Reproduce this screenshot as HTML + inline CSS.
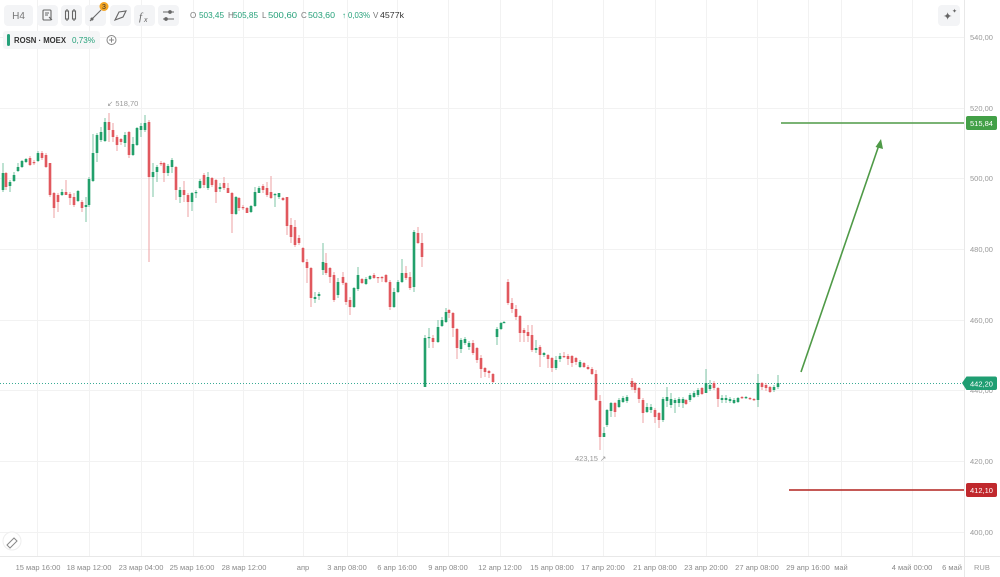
<!DOCTYPE html>
<html><head><meta charset="utf-8">
<style>
html,body{margin:0;padding:0;background:#fff;}
svg{display:block;font-family:"Liberation Sans",sans-serif;}
</style></head>
<body>
<svg id="c" width="1000" height="577" viewBox="0 0 1000 577" xmlns="http://www.w3.org/2000/svg">
<rect width="1000" height="577" fill="#fff"/>
<g stroke="#f2f2f2" stroke-width="1">
<line x1="0" y1="37.5" x2="964" y2="37.5"/><line x1="0" y1="108.5" x2="964" y2="108.5"/>
<line x1="0" y1="178.5" x2="964" y2="178.5"/><line x1="0" y1="249.5" x2="964" y2="249.5"/>
<line x1="0" y1="320.5" x2="964" y2="320.5"/><line x1="0" y1="390.5" x2="964" y2="390.5"/>
<line x1="0" y1="461.5" x2="964" y2="461.5"/><line x1="0" y1="532.5" x2="964" y2="532.5"/>
<line x1="37.5" y1="0" x2="37.5" y2="556"/><line x1="89.5" y1="0" x2="89.5" y2="556"/>
<line x1="141.5" y1="0" x2="141.5" y2="556"/><line x1="193.5" y1="0" x2="193.5" y2="556"/>
<line x1="243.5" y1="0" x2="243.5" y2="556"/><line x1="303.5" y1="0" x2="303.5" y2="556"/>
<line x1="347.5" y1="0" x2="347.5" y2="556"/><line x1="397.5" y1="0" x2="397.5" y2="556"/>
<line x1="448.5" y1="0" x2="448.5" y2="556"/><line x1="500.5" y1="0" x2="500.5" y2="556"/>
<line x1="552.5" y1="0" x2="552.5" y2="556"/><line x1="603.5" y1="0" x2="603.5" y2="556"/>
<line x1="655.5" y1="0" x2="655.5" y2="556"/><line x1="706.5" y1="0" x2="706.5" y2="556"/>
<line x1="757.5" y1="0" x2="757.5" y2="556"/><line x1="808.5" y1="0" x2="808.5" y2="556"/>
<line x1="841.5" y1="0" x2="841.5" y2="556"/><line x1="912.5" y1="0" x2="912.5" y2="556"/>
</g>
<line x1="964.5" y1="0" x2="964.5" y2="577" stroke="#e8e8e8"/>
<line x1="0" y1="556.5" x2="1000" y2="556.5" stroke="#e8e8e8"/>

<line x1="0" y1="383.5" x2="964" y2="383.5" stroke="#3aab95" stroke-width="1" stroke-dasharray="1,2"/>

<g id="candles"></g>

<text x="107" y="106" font-size="7.5" fill="#999">↙ 518,70</text>
<text x="575" y="461" font-size="7.5" fill="#999">423,15 ↗</text>

<line x1="781" y1="123" x2="964" y2="123" stroke="#4f9a47" stroke-width="1.6"/>
<line x1="789" y1="490" x2="964" y2="490" stroke="#b2221f" stroke-width="1.6"/>
<line x1="801" y1="372" x2="879" y2="145" stroke="#4f9a47" stroke-width="1.6"/>
<polygon points="881,139 875.5,147 883,149" fill="#4f9a47"/>

<g font-size="7.5" fill="#9a9a9a">
<text x="970" y="40">540,00</text><text x="970" y="111">520,00</text>
<text x="970" y="181">500,00</text><text x="970" y="252">480,00</text>
<text x="970" y="323">460,00</text><text x="970" y="393">440,00</text>
<text x="970" y="464">420,00</text><text x="970" y="535">400,00</text>
<text x="974" y="570">RUB</text>
</g>
<rect x="966" y="116" width="31" height="14" rx="2" fill="#43a047"/>
<text x="981.5" y="126" font-size="7.5" fill="#fff" text-anchor="middle">515,84</text>
<path d="M962 383 L966.5 376.5 H995 Q997 376.5 997 378.5 V388 Q997 390 995 390 H966.5 Z" fill="#1f9e72"/>
<text x="981.5" y="386.5" font-size="7.5" fill="#fff" text-anchor="middle">442,20</text>
<rect x="966" y="483" width="31" height="14" rx="2" fill="#c0282d"/>
<text x="981.5" y="493" font-size="7.5" fill="#fff" text-anchor="middle">412,10</text>

<g font-size="7.5" fill="#8a8a8a" text-anchor="middle">
<text x="38" y="570">15 мар 16:00</text><text x="89" y="570">18 мар 12:00</text>
<text x="141" y="570">23 мар 04:00</text><text x="192" y="570">25 мар 16:00</text>
<text x="244" y="570">28 мар 12:00</text><text x="303" y="570">апр</text>
<text x="347" y="570">3 апр 08:00</text><text x="397" y="570">6 апр 16:00</text>
<text x="448" y="570">9 апр 08:00</text><text x="500" y="570">12 апр 12:00</text>
<text x="552" y="570">15 апр 08:00</text><text x="603" y="570">17 апр 20:00</text>
<text x="655" y="570">21 апр 08:00</text><text x="706" y="570">23 апр 20:00</text>
<text x="757" y="570">27 апр 08:00</text><text x="808" y="570">29 апр 16:00</text>
<text x="841" y="570">май</text><text x="912" y="570">4 май 00:00</text>
<text x="952" y="570">6 май</text>
</g>

<rect x="4" y="5" width="29" height="21" rx="4" fill="#f3f4f6"/>
<text x="18.5" y="19" font-size="10" fill="#777" text-anchor="middle">H4</text>
<g fill="#f3f4f6">
<rect x="37" y="5" width="21" height="21" rx="4"/><rect x="61" y="5" width="21" height="21" rx="4"/>
<rect x="85" y="5" width="21" height="21" rx="4"/><rect x="110" y="5" width="21" height="21" rx="4"/>
<rect x="134" y="5" width="21" height="21" rx="4"/><rect x="158" y="5" width="21" height="21" rx="4"/>
<rect x="938" y="5" width="22" height="21" rx="4"/>
</g>
<g stroke="#666" stroke-width="1.1" fill="none">
<rect x="43" y="10" width="8" height="10" rx="1"/><path d="M45 13h4M45 15h3M49 17l3 3"/>
<rect x="65.5" y="11" width="3" height="8"/><rect x="72.5" y="11" width="3" height="8"/><path d="M67 9v2M67 19v2M74 9v2M74 19v2"/>
<path d="M90 21L101 10"/><circle cx="92" cy="19" r="1"/>
<path d="M115 20L119 12L126 11L123 17Z"/>
<path d="M163 12h11M163 19h11"/><circle cx="170" cy="12" r="1.3" fill="#666"/><circle cx="166" cy="19" r="1.3" fill="#666"/>
</g>
<text x="139" y="20" font-size="11" font-style="italic" font-family="Liberation Serif" fill="#666">f</text>
<text x="144" y="22" font-size="7" font-style="italic" fill="#666">x</text>
<circle cx="104" cy="6.5" r="4.5" fill="#f4a523"/>
<text x="104" y="9" font-size="7" fill="#333" text-anchor="middle">3</text>
<text x="943" y="20" font-size="11" fill="#666">✦</text><text x="952" y="13" font-size="6" fill="#666">✦</text>

<g font-size="8">
<text x="190" y="18" fill="#777">O</text><text x="199" y="18" fill="#26a17a" textLength="25" lengthAdjust="spacingAndGlyphs">503,45</text>
<text x="228" y="18" fill="#777">H</text><text x="233" y="18" fill="#26a17a" textLength="25" lengthAdjust="spacingAndGlyphs">505,85</text>
<text x="262" y="18" fill="#777">L</text><text x="268" y="18" fill="#26a17a" textLength="29" lengthAdjust="spacingAndGlyphs">500,60</text>
<text x="301" y="18" fill="#777">C</text><text x="308" y="18" fill="#26a17a" textLength="27" lengthAdjust="spacingAndGlyphs">503,60</text>
<text x="342" y="18" fill="#26a17a">↑</text><text x="348" y="18" fill="#26a17a" textLength="22" lengthAdjust="spacingAndGlyphs">0,03%</text>
<text x="373" y="18" fill="#777">V</text><text x="380" y="18" fill="#333" textLength="24" lengthAdjust="spacingAndGlyphs">4577k</text>
</g>

<rect x="3" y="31" width="97" height="18" rx="3" fill="#f5f6f7"/>
<rect x="7" y="34" width="3" height="12" rx="1.5" fill="#26a17a"/>
<text x="14" y="43" font-size="8" font-weight="bold" fill="#333" textLength="52" lengthAdjust="spacingAndGlyphs">ROSN · MOEX</text>
<text x="72" y="43" font-size="8" fill="#26a17a" textLength="23" lengthAdjust="spacingAndGlyphs">0,73%</text>
<circle cx="111.5" cy="40" r="4.5" fill="none" stroke="#888" stroke-width="1"/>
<path d="M109 40h5M111.5 37.5v5" stroke="#888" stroke-width="1"/>

<circle cx="12" cy="541" r="9" fill="#fff" stroke="#eee"/>
<path d="M7 545L14 538L17 541L10 548Z" fill="none" stroke="#888" stroke-width="1"/>
</svg>
<script>
var D=[
[3,190,173,163,192],[6,173,187,172,190],[10,186,182,180,192],[14,181,175,172,182],[18,171,167,163,172],[22,167,161,160,168],[26,162,159,158,163],[30,158,165,156,166],[34,162,163,160,165],[38,161,153,151,162],[42,153,158,151,160],[46,155,167,153,168],[50,163,195,163,197],[54,193,208,192,218],[58,195,202,193,212],[62,195,192,189,196],[66,192,195,180,195],[70,194,198,192,205],[74,197,205,193,207],[78,201,191,190,202],[82,202,208,200,212],[86,207,205,197,222],[89,205,179,177,207],[93,181,153,134,182],[97,153,135,133,162],[101,140,132,127,142],[105,141,122,118,142],[109,122,130,113,142],[113,130,137,123,142],[117,137,145,135,151],[121,139,142,138,145],[125,143,135,132,147],[129,132,155,131,158],[133,155,144,137,156],[137,145,128,127,146],[141,130,126,123,137],[145,130,123,115,132],[149,122,177,120,262],
[153,177,172,163,197],[157,172,167,165,182],[161,163,164,161,166],[164,163,173,162,182],[168,173,166,164,176],[172,167,160,158,173],[176,167,190,166,200],[180,197,190,187,203],[184,190,195,181,202],[188,195,202,193,217],[192,202,193,192,211],[196,193,192,190,198],[200,188,181,179,189],[204,175,185,173,188],[208,188,177,172,190],[212,178,185,177,187],[216,180,192,179,203],[220,189,187,183,192],[224,183,188,177,190],[228,188,193,183,193],[232,193,214,192,233],[236,214,197,196,215],[239,198,208,197,211],[243,207,208,205,210],[247,208,213,207,213],[251,212,206,205,213],[255,206,192,187,207],[259,193,188,186,193],[263,186,190,184,193],[267,188,195,182,197],[271,192,198,176,199],[275,195,194,193,207],[279,197,193,193,199],[283,198,200,197,201],[287,197,226,197,235],
[291,225,237,218,243],[295,227,245,220,247],[299,238,243,235,245],[303,248,262,247,263],[307,262,268,259,283],[311,268,298,267,307],[315,299,297,292,303],[319,296,294,292,300],[323,270,262,243,275],[326,263,273,253,275],[330,268,277,267,283],[334,275,300,272,302],[338,295,282,278,298],[343,277,283,272,285],[346,283,302,282,305],[350,300,307,297,315],[354,307,288,287,308],[358,289,275,267,291],[362,279,283,278,284],[366,284,279,277,285],[370,279,276,275,280],[374,275,278,273,279],[378,277,278,277,283],[382,277,278,276,282],[386,275,282,274,283],[390,282,307,280,310],[394,307,292,288,308],[398,292,282,280,293],[402,282,273,259,283],[406,273,278,266,280],[410,277,288,272,290],[414,287,232,230,292],[418,233,243,227,244],[422,243,257,233,267],
[425,387,338,335,387],[429,338,337,328,348],[433,338,342,335,348],[438,342,327,320,343],[442,326,320,317,327],[446,322,312,308,323],[449,310,313,309,318],[453,313,328,312,337],[457,329,348,328,359],[461,349,340,338,353],[465,343,339,337,345],[469,347,343,341,350],[473,343,353,340,355],[477,348,360,347,363],[481,358,369,355,378],[485,368,372,367,377],[489,371,373,370,378],[493,374,382,373,383],[497,337,329,327,345],[501,329,323,322,330],[504,322.5,322,321,323],[508,282,303,279,305],[512,303,309,298,313],[516,309,317,305,320],[520,316,333,315,342],[524,330,333,328,342],[528,332,336,325,342],[532,335,350,325,352],[536,350,348,340,353],[540,347,355,345,367],[544,355,353,352,357],[548,355,359,354,368],[552,358,368,357,372],[556,368,360,356,370],[560,359,356,353,362],[564,356,357,352,358],[568,356,359,354,365],[572,356,363,355,367],[576,358,362,357,365],[580,367,362,360,368],[584,363,367,362,368],[588,367,369,365,370],[592,369,374,367,375],[596,374,400,370,401],[600,401,437,395,450],[604,437,433,427,437],[607,425,410,409,427],[611,411,403,402,417],[615,403,412,402,417],[619,407,400,398,408],[623,402,398,396,403],[627,401,397,395,403],[632,381,387,378,390],[635,383,390,382,393],[639,388,399,387,403],[643,400,413,398,423],[647,412,407,403,413],[651,410,407,404,413],[655,410,417,408,423],[659,413,420,412,428],[663,420,399,397,422],[667,401,397,387,407],[671,405,399,393,408],[675,403,400,398,413],[679,403,399,397,407],[683,403,399,397,408],[686,400,404,399,405],[690,400,395,393,402],[694,397,393,391,398],[698,395,390,388,397],[702,388,394,387,395],[706,393,383,369,393],[710,389,385,380,391],[714,383,388,381,390],[718,388,399,387,407],[722,400,398,395,403],[726,400,398,395,403],[730,401,399,397,403],[734,403,400,398,404],[738,402,398,397,403],[742,397,398,396,399],[746,398,397,396,399],[750,398,399,397,400],[754,399,400,398,401],[758,400,383,374,407],[762,383,387,382,390],[766,385,388,383,391],[770,387,392,386,393],[774,390,387,385,392],[778,387,383,375,389]
];
var g=document.getElementById('candles'),h='';
D.forEach(function(d){
 var x=d[0],o=d[1],c=d[2],hi=d[3],lo=d[4];
 var up=c<=o, col=up?'#22a06b':'#e1585e', wc=up?'#7cc4a5':'#eea0a3';
 var top=Math.min(o,c),bh=Math.max(Math.abs(o-c),1.2);
 h+='<rect x="'+(x-0.5)+'" y="'+hi+'" width="1" height="'+(lo-hi)+'" fill="'+wc+'"/>';
 h+='<rect x="'+(x-1.3)+'" y="'+top+'" width="2.6" height="'+bh+'" fill="'+col+'"/>';
});
g.innerHTML=h;
</script>
</body></html>
